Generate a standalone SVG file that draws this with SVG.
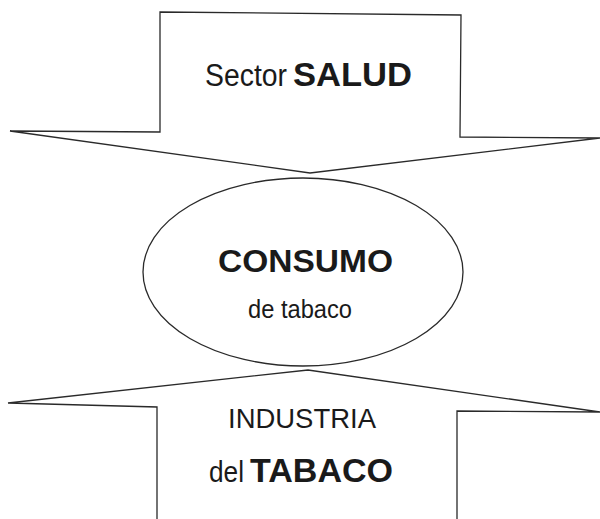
<svg xmlns="http://www.w3.org/2000/svg" width="600" height="519" viewBox="0 0 600 519">
<style>
.shape{fill:#fff;stroke:#2a2a2a;stroke-width:1.3;stroke-linejoin:miter}
.t{font-family:"Liberation Sans",Arial,sans-serif;fill:#1a1a1a}
.b{font-weight:bold}
</style>
<rect width="600" height="519" fill="#fff"/>
<g id="connectors"></g>
<g id="salud">
<path class="shape" d="M160,12 L461,15 L460,137 L600,138 L310,173 L10,131 L160,132 Z"/>
<text class="t" y="86"><tspan x="205" font-size="31" textLength="82" lengthAdjust="spacingAndGlyphs">Sector</tspan><tspan x="293" class="b" font-size="34" textLength="119" lengthAdjust="spacingAndGlyphs">SALUD</tspan></text>
</g>
<g id="consumo">
<ellipse class="shape" cx="303" cy="272" rx="160" ry="94"/>
<text class="t b" x="218" y="272" font-size="32" textLength="175" lengthAdjust="spacingAndGlyphs">CONSUMO</text>
<text class="t" x="248" y="318" font-size="25" textLength="104" lengthAdjust="spacingAndGlyphs">de tabaco</text>
</g>
<g id="industria">
<path class="shape" d="M157,519 L157,407 L8,403 L308,370 L600,412 L457,411 L457,519"/>
<text class="t" x="228" y="428" font-size="28" textLength="148" lengthAdjust="spacingAndGlyphs">INDUSTRIA</text>
<text class="t" y="482"><tspan x="209" font-size="29" textLength="35" lengthAdjust="spacingAndGlyphs">del</tspan><tspan x="250" class="b" font-size="33" textLength="143" lengthAdjust="spacingAndGlyphs">TABACO</tspan></text>
</g>
</svg>
